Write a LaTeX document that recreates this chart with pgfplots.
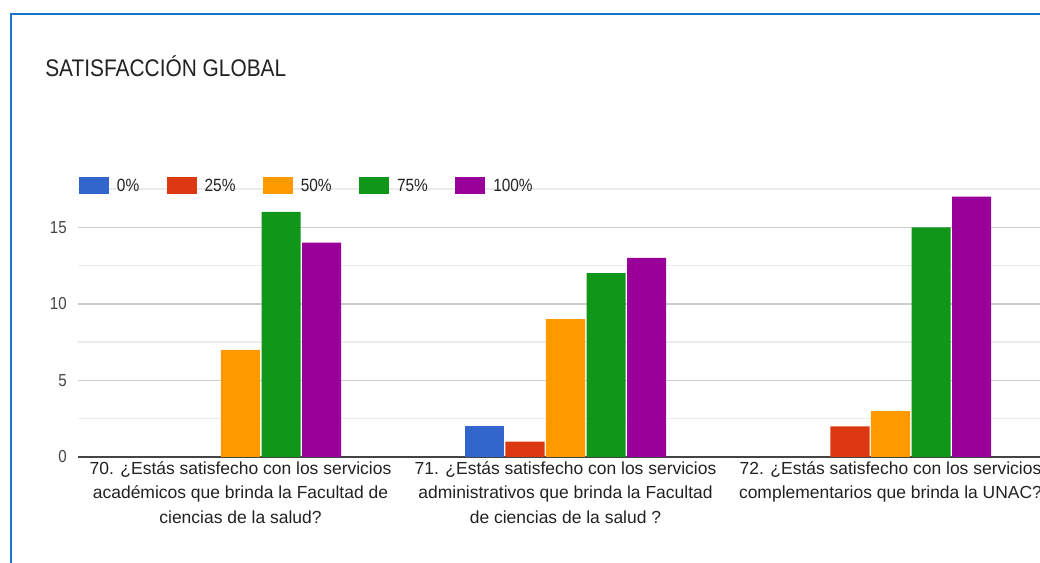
\documentclass[border=0pt]{standalone}
\usepackage{fontspec}
\setmainfont{Liberation Sans}
\newfontfamily\condfont[FakeStretch=0.87]{Liberation Sans}
\usepackage{pgfplots}
\pgfplotsset{compat=1.18}

\definecolor{cBlue}{HTML}{3366CC}
\definecolor{cRed}{HTML}{DC3912}
\definecolor{cOrange}{HTML}{FF9900}
\definecolor{cGreen}{HTML}{109618}
\definecolor{cPurple}{HTML}{990099}
\definecolor{frameblue}{HTML}{1A73C8}
\definecolor{gridmajor}{HTML}{CCCCCC}
\definecolor{gridminor}{HTML}{EBEBEB}
\definecolor{axisgray}{HTML}{444444}
\definecolor{txt}{HTML}{222222}
\definecolor{ticktxt}{HTML}{444444}

\pgfplotsset{sqleg/.style={legend image code/.code={\fill[##1] (0pt,-2.2pt) rectangle (22.5pt,10.55pt);}}}

\begin{document}
\begin{tikzpicture}[x=0.75pt,y=0.75pt]
\useasboundingbox (0,0) rectangle (1040,563);
\fill[white] (0,0) rectangle (1040,563);
\clip (0,0) rectangle (1040,563);
\draw[frameblue, line width=1.5pt] (10.5,-5) -- (10.5,548.5) -- (1050,548.5);
\node[anchor=base west, inner sep=0pt, text=txt, font=\condfont\fontsize{18}{20}\selectfont] at (45,486) {SATISFACCIÓN GLOBAL};

\begin{axis}[
    at={(58.5pt,79.5pt)}, anchor=south west,
    scale only axis, width=731.25pt, height=201pt,
    xmin=-0.5, xmax=2.5, ymin=0, ymax=17.5,
    ybar=1.1pt, bar width=29.3pt,
    axis x line*=bottom, axis y line*=left,
    x axis line style={draw=axisgray, line width=1.3pt},
    y axis line style={draw=none},
    ytick={0,5,10,15}, minor ytick={2.5,7.5,12.5,17.5},
    ymajorgrids, yminorgrids,
    major grid style={draw=gridmajor, line width=1.1pt},
    minor grid style={draw=gridminor, line width=1.1pt},
    major tick length=0pt, minor tick length=0pt,
    /pgf/number format/assume math mode=true,
    xtick={0,1,2},
    xticklabels={
      {70. ¿Estás satisfecho con los servicios\\académicos que brinda la Facultad de\\ciencias de la salud?},
      {71. ¿Estás satisfecho con los servicios\\administrativos que brinda la Facultad\\de ciencias de la salud ?},
      {72. ¿Estás satisfecho con los servicios\\complementarios que brinda la UNAC?}},
    xticklabel style={align=center, text=txt, inner sep=0pt, anchor=north, yshift=-3pt,
      font=\fontsize{13.1}{18.4}\selectfont},
    yticklabel style={text=ticktxt, inner sep=0pt, xshift=-8.25pt,
      font=\condfont\fontsize{13}{15}\selectfont},
    legend columns=-1,
    legend style={at={(axis description cs:0,1)}, anchor=north west,
      xshift=0.75pt, yshift=9pt, draw=none, fill=none, inner sep=0pt, outer sep=0pt,
      text=txt, font=\condfont\fontsize{13.3}{15}\selectfont,
      cells={anchor=base west},
      nodes={inner sep=0pt},
      /tikz/every even column/.append style={column sep=20.5pt},
      /tikz/every odd column/.append style={column sep=6pt}},
  ]
  \addplot[fill=cBlue, draw=none, sqleg] coordinates {(1,2)};
  \addplot[fill=cRed, draw=none, sqleg] coordinates {(1,1) (2,2)};
  \addplot[fill=cOrange, draw=none, sqleg] coordinates {(0,7) (1,9) (2,3)};
  \addplot[fill=cGreen, draw=none, sqleg] coordinates {(0,16) (1,12) (2,15)};
  \addplot[fill=cPurple, draw=none, sqleg] coordinates {(0,14) (1,13) (2,17)};
  \legend{0\%, 25\%, 50\%, 75\%, 100\%}
\end{axis}
\end{tikzpicture}
\end{document}
